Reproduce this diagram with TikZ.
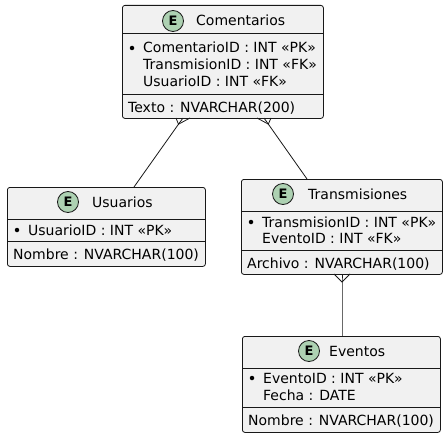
\documentclass[tikz,border=0pt]{standalone}
\usepackage{fontspec}
\setmainfont{DejaVu Sans}
\definecolor{boxfill}{HTML}{F1F1F1}
\definecolor{linec}{HTML}{181818}
\definecolor{efill}{HTML}{ADD1B2}
\begin{document}
\begin{tikzpicture}[x=1pt,y=-1pt,
 entbox/.style={draw=linec, fill=boxfill, line width=0.8pt, rounded corners=2.5pt, inner sep=0pt, anchor=north west},
 sepline/.style={draw=linec, line width=0.8pt},
 ecirc/.style={circle, draw=linec, fill=efill, line width=0.8pt, minimum size=21pt, inner sep=0pt, font=\fontsize{13}{13}\bfseries\selectfont},
 ttl/.style={anchor=base west, inner sep=0pt, font=\fontsize{14}{16}\selectfont},
 attr/.style={anchor=base west, inner sep=0pt, font=\fontsize{14}{16}\selectfont},
 bul/.style={circle, fill=black, inner sep=0pt, minimum size=4.5pt},
 conn/.style={draw=linec, line width=0.8pt}
]
\useasboundingbox (0,0) rectangle (446,433);

% Comentarios
\node[entbox, minimum width=201pt, minimum height=113pt] (com) at (122,5) {};
\draw[sepline] (122,33) -- (323,33);
\draw[sepline] (122,94) -- (323,94);
\node[ecirc] (comE) at (173,21) {E};
\node[ttl] (comT) at (196,26) {Comentarios};
\node[bul] (comB) at (132,48) {};
\node[attr] (comA1) at (143,53) {ComentarioID : INT «PK»};
\node[attr] (comA2) at (143,69.5) {TransmisionID : INT «FK»};
\node[attr] (comA3) at (143,86) {UsuarioID : INT «FK»};
\node[attr] (comA4) at (128,112) {Texto : NVARCHAR(200)};

% Usuarios
\node[entbox, minimum width=198pt, minimum height=79pt] (usu) at (7,187) {};
\draw[sepline] (7,219) -- (205,219);
\draw[sepline] (7,241) -- (205,241);
\node[ecirc] (usuE) at (68,202) {E};
\node[ttl] (usuT) at (92,207) {Usuarios};
\node[bul] (usuB) at (17,230) {};
\node[attr] (usuA1) at (28,235) {UsuarioID : INT «PK»};
\node[attr] (usuA2) at (13,259) {Nombre : NVARCHAR(100)};

% Transmisiones
\node[entbox, minimum width=201pt, minimum height=95pt] (tra) at (241,179) {};
\draw[sepline] (241,211) -- (442,211);
\draw[sepline] (241,250) -- (442,250);
\node[ecirc] (traE) at (283,194) {E};
\node[ttl] (traT) at (308,199) {Transmisiones};
\node[bul] (traB) at (251,222) {};
\node[attr] (traA1) at (262,227) {TransmisionID : INT «PK»};
\node[attr] (traA2) at (262,243) {EventoID : INT «FK»};
\node[attr] (traA3) at (247,268) {Archivo : NVARCHAR(100)};

% Eventos
\node[entbox, minimum width=198pt, minimum height=96pt] (eve) at (242,336) {};
\draw[sepline] (242,368) -- (440,368);
\draw[sepline] (242,407) -- (440,407);
\node[ecirc] (eveE) at (309,351) {E};
\node[ttl] (eveT) at (329,356) {Eventos};
\node[bul] (eveB) at (252,378) {};
\node[attr] (eveA1) at (263,383) {EventoID : INT «PK»};
\node[attr] (eveA2) at (263,400) {Fecha : DATE};
\node[attr] (eveA3) at (248,425) {Nombre : NVARCHAR(100)};

% connectors
\coordinate (k1e) at (183,118);
\coordinate (k1p) at (178.5,124.2);
\coordinate (k1l) at (176,118);
\coordinate (k1r) at (190,118);
\coordinate (k1u) at (134,187);
\draw[conn] (k1u) -- (k1p) -- (k1e);
\draw[conn] (k1l) -- (k1p) -- (k1r);

\coordinate (k2e) at (264,118);
\coordinate (k2p) at (268.3,124.1);
\coordinate (k2l) at (257,118);
\coordinate (k2r) at (271,118);
\coordinate (k2t) at (307,179);
\draw[conn] (k2t) -- (k2p) -- (k2e);
\draw[conn] (k2l) -- (k2p) -- (k2r);

\coordinate (k3e) at (342,274);
\coordinate (k3p) at (342,282);
\coordinate (k3l) at (334,274);
\coordinate (k3r) at (350,274);
\coordinate (k3v) at (342,336);
\draw[conn] (k3v) -- (k3p) -- (k3e);
\draw[conn] (k3l) -- (k3p) -- (k3r);
\end{tikzpicture}
\end{document}
